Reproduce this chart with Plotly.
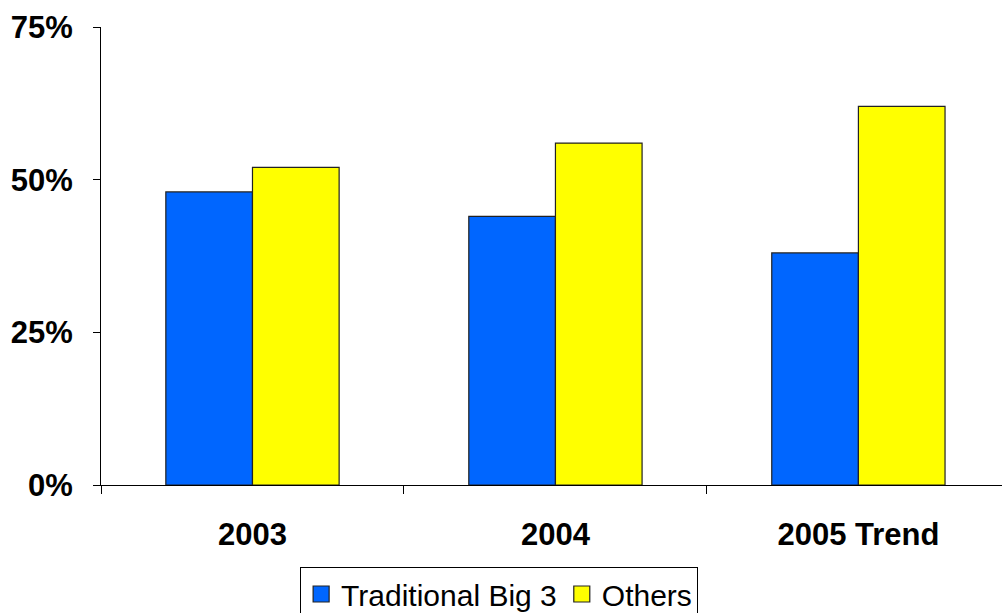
import plotly.graph_objects as go

categories = ["2003", "2004", "2005 Trend"]
big3 = [48, 44, 38]
others = [52, 56, 62]
y_ticks = [0, 25, 50, 75]
y_tick_labels = ["0%", "25%", "50%", "75%"]
series_names = ["Traditional Big 3", "Others"]
series_colors = ["#0066FF", "#FFFF00"]

FONT = "Arial, Liberation Sans, sans-serif"

fig = go.Figure()
for name, vals, col in zip(series_names, [big3, others], series_colors):
    fig.add_trace(go.Bar(x=categories, y=vals, name=name, showlegend=False,
                         marker=dict(color=col, line=dict(color="#222222", width=1.2))))
# legend proxies (larger square symbols, like the reference)
for name, col in zip(series_names, series_colors):
    fig.add_trace(go.Scatter(x=[None], y=[None], mode="markers", name=name,
                             marker=dict(symbol="square", size=16, color=col,
                                         line=dict(color="#222222", width=1.2))))

fig.update_layout(
    width=1002, height=613,
    margin=dict(l=101, r=0, t=27, b=128, autoexpand=False),
    plot_bgcolor="white", paper_bgcolor="white",
    barmode="group", bargap=0.428, bargroupgap=0,
    font=dict(family=FONT, color="black"),
    xaxis=dict(
        type="category",
        range=[-0.5, 2.474],
        showline=True, linecolor="black", linewidth=1,
        ticks="outside", tickson="boundaries", ticklen=8, tickcolor="black", tickwidth=1,
        tickfont=dict(size=31, family=FONT, weight="bold"),
        ticklabelstandoff=22,
        showgrid=False, zeroline=False,
    ),
    yaxis=dict(
        range=[0, 75],
        tickvals=y_ticks, ticktext=y_tick_labels,
        showline=True, linecolor="black", linewidth=1,
        ticks="outside", ticklen=7, tickcolor="black", tickwidth=1,
        tickfont=dict(size=31, family=FONT, weight="bold"),
        ticklabelstandoff=14,
        showgrid=False, zeroline=False,
    ),
    legend=dict(
        orientation="h",
        x=0.221, xanchor="left",
        y=-0.179, yanchor="top",
        bordercolor="black", borderwidth=1,
        font=dict(size=30, family=FONT),
        itemsizing="trace",
        itemwidth=30,
    ),
)

fig.write_html("out.html")
